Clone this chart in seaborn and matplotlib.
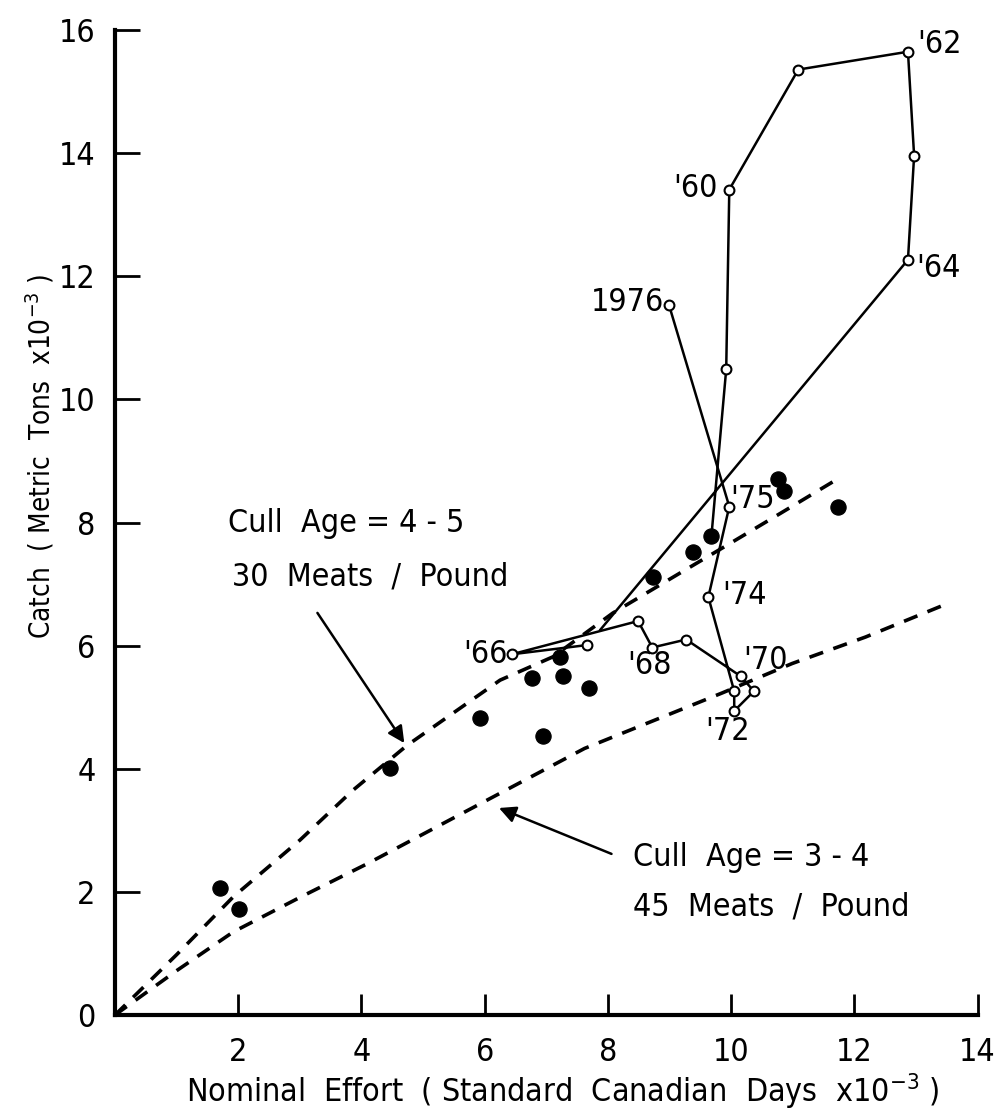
import numpy as np
import pandas as pd
import matplotlib
matplotlib.use('Agg')
import matplotlib.pyplot as plt
import seaborn as sns

sns.set_theme(style='ticks')
plt.rcParams['font.family'] = ['DejaVu Sans']
plt.rcParams['font.stretch'] = 'condensed'
plt.rcParams['text.color'] = 'black'
plt.rcParams['axes.labelcolor'] = 'black'
plt.rcParams['xtick.color'] = 'black'
plt.rcParams['ytick.color'] = 'black'
plt.rcParams['xtick.direction'] = 'in'
plt.rcParams['ytick.direction'] = 'in'

# Observed catch/effort (filled dots)
effort_obs = [1.70, 2.01, 4.46, 5.93, 6.77, 6.95, 7.22, 7.27, 7.69, 8.73, 9.38, 9.68, 10.76, 10.86, 11.74]
catch_obs = [2.06, 1.72, 4.01, 4.82, 5.47, 4.53, 5.81, 5.50, 5.31, 7.11, 7.52, 7.78, 8.70, 8.51, 8.26]

# Yearly series 1959-1976 (open circles)
years = [1959, 1960, 1961, 1962, 1963, 1964, 1965, 1966, 1967, 1968,
         1969, 1970, 1971, 1972, 1973, 1974, 1975, 1976]
effort_yr = [9.92, 9.97, 11.09, 12.87, 12.97, 12.87, 7.66, 6.44, 8.49, 8.72,
             9.27, 10.16, 10.37, 10.05, 10.05, 9.63, 9.97, 8.99]
catch_yr = [10.49, 13.41, 15.36, 15.65, 13.96, 12.27, 6.01, 5.86, 6.40, 5.97,
            6.10, 5.50, 5.26, 4.94, 5.26, 6.79, 8.26, 11.54]
# where the 1964 line meets the 1966-67 segment
junction = (7.87, 6.25)

# Yield curves
effort_45 = [0, 1.0, 1.92, 3.00, 3.86, 4.74, 6.25, 7.11, 8.08, 9.17, 9.98, 10.80, 11.68]
catch_45 = [0, 0.98, 1.92, 2.84, 3.65, 4.38, 5.44, 5.82, 6.53, 7.18, 7.66, 8.15, 8.68]
effort_34 = [0, 1.0, 1.92, 3.00, 4.10, 6.00, 7.62, 9.85, 10.99, 12.18, 13.55]
catch_34 = [0, 0.72, 1.35, 1.91, 2.46, 3.47, 4.33, 5.23, 5.71, 6.14, 6.70]

year_labels = ["'60", "'62", "'64", "1976", "'75", "'74", "'66", "'68", "'70", "'72"]
label_x = [9.78, 13.02, 13.0, 8.91, 9.98, 9.85, 6.38, 8.31, 10.20, 9.58]
label_y = [13.43, 15.77, 12.13, 11.57, 8.38, 6.82, 5.86, 5.68, 5.76, 4.61]
label_ha = ['right', 'left', 'left', 'right', 'left', 'left', 'right', 'left', 'left', 'left']

fig = plt.figure(figsize=(9.96, 11.14), dpi=100)
ax = fig.add_axes([0.1155, 0.0889, 0.866, 0.884])

dash_kw = dict(color='black', linewidth=2.6, dashes=(4, 3), legend=False,
               sort=False, estimator=None)
sns.lineplot(x=effort_45, y=catch_45, ax=ax, **dash_kw)
sns.lineplot(x=effort_34, y=catch_34, ax=ax, **dash_kw)

# Connecting lines
line_kw = dict(color='black', linewidth=1.8, sort=False, estimator=None, legend=False)
path1_x = [effort_obs[11]] + effort_yr[:6] + [junction[0]]
path1_y = [catch_obs[11]] + catch_yr[:6] + [junction[1]]
sns.lineplot(x=path1_x, y=path1_y, ax=ax, **line_kw)
sns.lineplot(x=effort_yr[6:], y=catch_yr[6:], ax=ax, **line_kw)

sns.scatterplot(x=effort_obs, y=catch_obs, ax=ax, color='black', s=120, edgecolor='black', zorder=5)
sns.scatterplot(x=effort_yr, y=catch_yr, ax=ax, color='white', s=50, edgecolor='black',
                linewidth=1.5, zorder=6)

for lab, lx, ly, ha in zip(year_labels, label_x, label_y, label_ha):
    ax.text(lx, ly, lab, ha=ha, va='center', fontsize=23)

# Annotations
ax.text(1.84, 7.99, 'Cull  Age = 4 - 5', fontsize=23, va='center')
ax.text(1.90, 7.11, '30  Meats  /  Pound', fontsize=23, va='center')
ax.annotate('', xy=(4.72, 4.38), xytext=(3.26, 6.57),
            arrowprops=dict(arrowstyle='-|>', color='black', lw=1.8, mutation_scale=25))
ax.text(8.40, 2.56, 'Cull  Age = 3 - 4', fontsize=23, va='center')
ax.text(8.40, 1.75, '45  Meats  /  Pound', fontsize=23, va='center')
ax.annotate('', xy=(6.19, 3.38), xytext=(8.10, 2.60),
            arrowprops=dict(arrowstyle='-|>', color='black', lw=1.8, mutation_scale=25))

ax.set_xlim(0, 14)
ax.set_ylim(0, 16)
ax.set_xticks([2, 4, 6, 8, 10, 12, 14])
ax.set_yticks([0, 2, 4, 6, 8, 10, 12, 14, 16])
ax.tick_params(axis='x', direction='in', length=15, width=2, labelsize=23, pad=16)
ax.tick_params(axis='y', direction='in', length=18, width=2, labelsize=23, pad=14)
for side in ['top', 'right']:
    ax.spines[side].set_visible(False)
for side in ['left', 'bottom']:
    ax.spines[side].set_linewidth(3)
    ax.spines[side].set_color('black')

ax.set_xlabel('Nominal  Effort  ( Standard  Canadian  Days  x10$^{-3}$ )', fontsize=23)
ax.xaxis.set_label_coords(0.519, -0.057)
ax.set_ylabel('Catch  ( Metric  Tons  x10$^{-3}$ )', fontsize=20)
ax.yaxis.set_label_coords(-0.068, 0.567)

fig.savefig('out.png', dpi=100, facecolor='white')
